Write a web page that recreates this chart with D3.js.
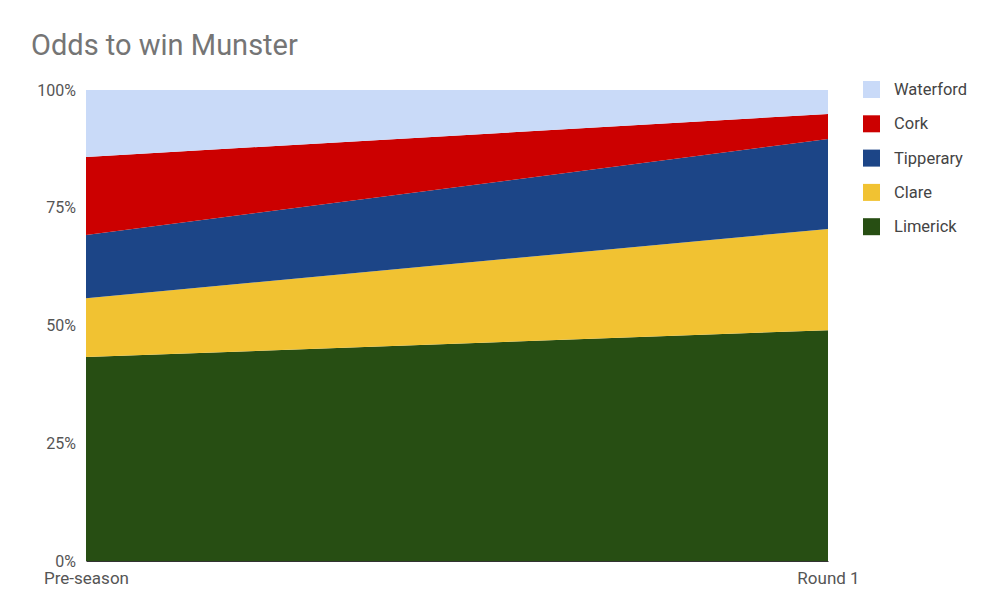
<!DOCTYPE html>
<head>
  <meta charset="utf-8">
  <script src="https://d3js.org/d3.v7.min.js"></script>
  <style>
    body { margin: 0; background: #fff; }
    svg { font-family: Roboto, "Open Sans", sans-serif; }
  </style>
</head>
<body>
  <svg width="1000" height="612"></svg>
  <script>
    // data
    var stages = ['Pre-season', 'Round 1'];
    var teams = ['Limerick', 'Clare', 'Tipperary', 'Cork', 'Waterford'];
    var limerick = [43.3, 49.0];
    var clare = [12.5, 21.5];
    var tipperary = [13.4, 19.1];
    var cork = [16.6, 5.3];
    var waterford = [14.2, 5.1];
    var colors = ['#274e13', '#f1c232', '#1c4587', '#cc0000', '#c9daf8'];
    var yTicks = [0, 0.25, 0.5, 0.75, 1];

    var margin = { top: 90, bottom: 51, left: 86, right: 172 };
    var width = 1000, height = 612;

    var rows = stages.map(function (s, i) {
      return { stage: s, Limerick: limerick[i], Clare: clare[i], Tipperary: tipperary[i], Cork: cork[i], Waterford: waterford[i] };
    });
    var series = d3.stack().keys(teams).offset(d3.stackOffsetExpand)(rows);

    var x = d3.scalePoint().domain(stages).range([margin.left, width - margin.right]);
    var y = d3.scaleLinear().domain([0, 1]).range([height - margin.bottom, margin.top]);
    var color = d3.scaleOrdinal().domain(teams).range(colors);

    var svg = d3.select('svg');

    svg.append('text').attr('x', 31).attr('y', 55)
      .attr('font-size', 29).attr('fill', '#757575').text('Odds to win Munster');

    var area = d3.area()
      .x(function (d) { return x(d.data.stage); })
      .y0(function (d) { return y(d[0]); })
      .y1(function (d) { return y(d[1]); });

    svg.selectAll('path.layer').data(series).enter().append('path')
      .attr('class', 'layer')
      .attr('d', area)
      .attr('fill', function (d) { return color(d.key); });

    var yAxis = d3.axisLeft(y).tickValues(yTicks).tickFormat(d3.format('.0%')).tickSize(0).tickPadding(10);
    var gy = svg.append('g').attr('transform', 'translate(' + margin.left + ',0)').call(yAxis);
    gy.select('.domain').remove();
    gy.selectAll('text').attr('font-size', 16).attr('fill', '#555').attr('font-family', 'Roboto, sans-serif');

    var xAxis = d3.axisBottom(x).tickSize(0).tickPadding(11);
    var gx = svg.append('g').attr('transform', 'translate(0,' + (height - margin.bottom) + ')').call(xAxis);
    gx.select('.domain').attr('stroke', '#333');
    gx.selectAll('text').attr('font-size', 17).attr('fill', '#555').attr('font-family', 'Roboto, sans-serif');

    // legend, top to bottom in reverse stack order
    var legend = svg.selectAll('g.leg').data(teams.slice().reverse()).enter().append('g')
      .attr('class', 'leg')
      .attr('transform', function (d, i) { return 'translate(863,' + (81 + i * 34.3) + ')'; });
    legend.append('rect').attr('width', 17).attr('height', 17).attr('fill', color);
    legend.append('text').attr('x', 31).attr('y', 14).attr('font-size', 16.5).attr('fill', '#444').text(function (d) { return d; });
  </script>
</body>
